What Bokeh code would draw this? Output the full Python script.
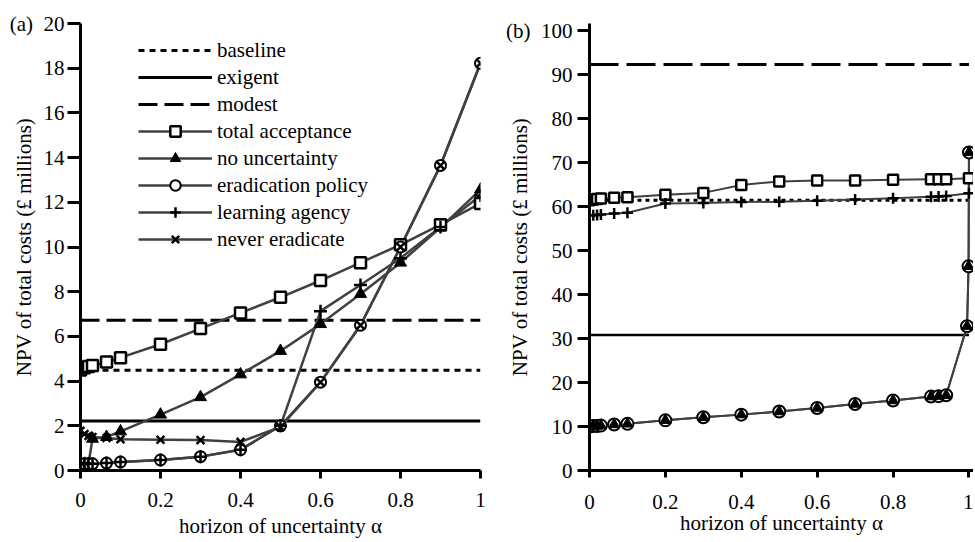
from bokeh.plotting import figure
from bokeh.layouts import row
from bokeh.models import FixedTicker, NumeralTickFormatter, Legend, LegendItem, Range1d
from bokeh.embed import file_html
from bokeh.resources import INLINE

FONT = "Times New Roman"
FS = "21px"
LINE_COL = "#404040"

# ---------------- panel (a) data ----------------
alpha_a = [0, 0.01, 0.02, 0.03, 0.065, 0.1, 0.2, 0.3, 0.4, 0.5, 0.6, 0.7, 0.8, 0.9, 1.0]
baseline_a = 4.48
exigent_a = 2.22
modest_a = 6.72
total_acceptance_a = [4.5, 4.6, 4.65, 4.7, 4.85, 5.05, 5.65, 6.35, 7.05, 7.75, 8.5, 9.3, 10.1, 11.0, 11.95]
no_uncertainty_a = [0.3, 0.3, 0.3, 1.42, 1.5, 1.75, 2.5, 3.28, 4.3, 5.35, 6.55, 7.9, 9.3, 10.87, 12.57]
eradication_policy_a = [0.3, 0.3, 0.3, 0.3, 0.33, 0.38, 0.47, 0.62, 0.93, 2.0, 3.95, 6.5, 10.0, 13.65, 18.22]
learning_agency_a = [0.3, 0.3, 0.3, 0.3, 0.33, 0.38, 0.47, 0.62, 0.93, 2.0, 7.13, 8.3, 9.5, 10.9, 12.3]
never_eradicate_a = [1.78, 1.63, 1.55, 1.5, 1.45, 1.4, 1.38, 1.36, 1.28, 1.95, 3.95, 6.5, 10.0, 13.65, 18.22]

# ---------------- panel (b) data ----------------
alpha_b = [0, 0.01, 0.02, 0.03, 0.065, 0.1, 0.2, 0.3, 0.4, 0.5, 0.6, 0.7, 0.8, 0.9, 0.92, 0.94, 1.0]
baseline_b = 61.4
exigent_b = 30.8
modest_b = 92.3
total_acceptance_b = [61.4, 61.6, 61.7, 61.8, 62.0, 62.1, 62.7, 63.1, 64.9, 65.7, 65.9, 65.9, 66.1, 66.2, 66.2, 66.2, 66.4]
learning_agency_b = [58.0, 58.0, 58.1, 58.2, 58.4, 58.6, 60.7, 60.8, 61.0, 61.1, 61.3, 61.6, 61.9, 62.2, 62.3, 62.4, 63.0]
alpha_b_low = [0, 0.01, 0.02, 0.03, 0.065, 0.1, 0.2, 0.3, 0.4, 0.5, 0.6, 0.7, 0.8, 0.9, 0.92, 0.94, 0.995, 0.999, 1.0]
eradication_policy_b = [10.0, 10.1, 10.1, 10.2, 10.45, 10.6, 11.4, 12.1, 12.7, 13.4, 14.2, 15.1, 15.9, 16.8, 16.9, 17.1, 32.8, 46.4, 72.3]
no_uncertainty_b = [10.0, 10.1, 10.1, 10.2, 10.45, 10.6, 11.4, 12.1, 12.7, 13.4, 14.2, 15.1, 15.9, 16.8, 16.9, 17.1, 32.8, 46.4, 72.3]

x_ticks = [0, 0.2, 0.4, 0.6, 0.8, 1]
y_ticks_a = [0, 2, 4, 6, 8, 10, 12, 14, 16, 18, 20]
y_ticks_b = [0, 10, 20, 30, 40, 50, 60, 70, 80, 90, 100]
x_title = "horizon of uncertainty α"
y_title = "NPV of total costs (£ millions)"
panel_a = "(a)"
panel_b = "(b)"


def style_axes(p, yticks, x_tick_out, x_standoff, x_label_standoff,
               y_tick_out, y_standoff, y_label_standoff, panel):
    p.xaxis.ticker = FixedTicker(ticks=x_ticks)
    p.yaxis.ticker = FixedTicker(ticks=yticks)
    p.xaxis.formatter = NumeralTickFormatter(format="0.[0]")
    top = yticks[-1]
    # panel tag written in front of the top tick label, as in the original
    p.yaxis.major_label_overrides = {top: panel + "\u2002" + str(top),
                                     str(top): panel + "\u2002" + str(top)}
    p.axis.axis_line_width = 3
    p.axis.axis_line_color = "black"
    p.axis.major_tick_line_width = 3
    p.axis.major_tick_line_color = "black"
    p.axis.major_tick_in = 0
    p.axis.minor_tick_line_color = None
    p.axis.major_label_text_font = FONT
    p.axis.major_label_text_font_size = FS
    p.axis.major_label_text_font_style = "normal"
    p.axis.major_label_text_color = "black"
    p.axis.axis_label_text_font = FONT
    p.axis.axis_label_text_font_size = FS
    p.axis.axis_label_text_font_style = "normal"
    p.axis.axis_label_text_color = "black"
    p.xaxis.axis_label = x_title
    p.yaxis.axis_label = y_title
    p.xaxis.major_tick_out = x_tick_out
    p.xaxis.major_label_standoff = x_standoff
    p.xaxis.axis_label_standoff = x_label_standoff
    p.yaxis.major_tick_out = y_tick_out
    p.yaxis.major_label_standoff = y_standoff
    p.yaxis.axis_label_standoff = y_label_standoff
    p.xgrid.grid_line_color = None
    p.ygrid.grid_line_color = None
    p.outline_line_color = None


# ---------------- figure (a) ----------------
pa = figure(width=490, height=540, output_backend="svg", toolbar_location=None, title=None,
            x_range=Range1d(0, 1), y_range=Range1d(0, 20),
            min_border_left=80, min_border_right=10, min_border_top=23, min_border_bottom=70)
style_axes(pa, y_ticks_a, 8, 14, 4, 13, 3, -29, panel_a)

xr = [alpha_a[0], alpha_a[-1]]
r_base = pa.line(xr, [baseline_a] * 2, line_color="black", line_width=3, line_dash="6 5")
r_exi = pa.line(xr, [exigent_a] * 2, line_color="black", line_width=3)
r_mod = pa.line(xr, [modest_a] * 2, line_color="black", line_width=3, line_dash="19 7")

l_ta = pa.line(alpha_a, total_acceptance_a, line_color=LINE_COL, line_width=2.5)
l_nu = pa.line(alpha_a, no_uncertainty_a, line_color=LINE_COL, line_width=2.5)
l_ep = pa.line(alpha_a, eradication_policy_a, line_color=LINE_COL, line_width=2.5)
l_la = pa.line(alpha_a, learning_agency_a, line_color=LINE_COL, line_width=2.5)
l_ne = pa.line(alpha_a, never_eradicate_a, line_color=LINE_COL, line_width=2.5)

m_nu = pa.scatter(alpha_a, no_uncertainty_a, marker="triangle", size=12,
                  fill_color="black", line_color="black", line_width=1)
m_ta = pa.scatter(alpha_a, total_acceptance_a, marker="square", size=11,
                  fill_color="white", line_color="black", line_width=2.5)
m_ep = pa.scatter(alpha_a, eradication_policy_a, marker="circle", size=11,
                  fill_color="white", line_color="black", line_width=2)
m_ne = pa.scatter(alpha_a, never_eradicate_a, marker="x", size=11,
                  line_color="black", line_width=2.5)
m_la = pa.scatter(alpha_a, learning_agency_a, marker="cross", size=13,
                  line_color="black", line_width=2.5)

legend = Legend(items=[
    LegendItem(label="baseline", renderers=[r_base]),
    LegendItem(label="exigent", renderers=[r_exi]),
    LegendItem(label="modest", renderers=[r_mod]),
    LegendItem(label="total acceptance", renderers=[l_ta, m_ta]),
    LegendItem(label="no uncertainty", renderers=[l_nu, m_nu]),
    LegendItem(label="eradication policy", renderers=[l_ep, m_ep]),
    LegendItem(label="learning agency", renderers=[l_la, m_la]),
    LegendItem(label="never eradicate", renderers=[l_ne, m_ne]),
], location=(58, 218), border_line_alpha=0, background_fill_alpha=0,
    padding=0, margin=0, spacing=1, glyph_width=74, glyph_height=26,
    label_height=26, label_standoff=5, label_text_font=FONT,
    label_text_font_size=FS, label_text_color="black")
pa.add_layout(legend)

# ---------------- figure (b) ----------------
# frames of the two panels share top/bottom in a row; panel (b)'s 100 sits 7px below (a)'s 20
pb = figure(width=483, height=540, output_backend="svg", toolbar_location=None, title=None,
            x_range=Range1d(0, 1.012), y_range=Range1d(0, 101.6),
            min_border_left=99, min_border_right=0, min_border_top=23, min_border_bottom=70)
style_axes(pb, y_ticks_b, 7, 17, -1, 12, 5, -29, panel_b)

xrb = [alpha_b[0], alpha_b[-1]]
pb.line(xrb, [baseline_b] * 2, line_color="black", line_width=3, line_dash="4 4")
pb.line(xrb, [exigent_b] * 2, line_color="black", line_width=2.5)
pb.line(xrb, [modest_b] * 2, line_color="black", line_width=3, line_dash="29 8")

pb.line(alpha_b, total_acceptance_b, line_color=LINE_COL, line_width=2)
pb.line(alpha_b, learning_agency_b, line_color=LINE_COL, line_width=2)
pb.line(alpha_b_low, eradication_policy_b, line_color=LINE_COL, line_width=2)
pb.line(alpha_b_low, no_uncertainty_b, line_color=LINE_COL, line_width=2)

pb.scatter(alpha_b, total_acceptance_b, marker="square", size=10,
           fill_color="white", line_color="black", line_width=2.5)
pb.scatter(alpha_b, learning_agency_b, marker="cross", size=11,
           line_color="black", line_width=2.5)
pb.scatter(alpha_b_low, eradication_policy_b, marker="circle", size=12,
           fill_color="white", line_color="black", line_width=2)
pb.scatter(alpha_b_low, no_uncertainty_b, marker="triangle", size=11,
           fill_color="black", line_color="black", line_width=1)

layout = row(pa, pb)
open("out.html", "w").write(file_html(layout, INLINE))
